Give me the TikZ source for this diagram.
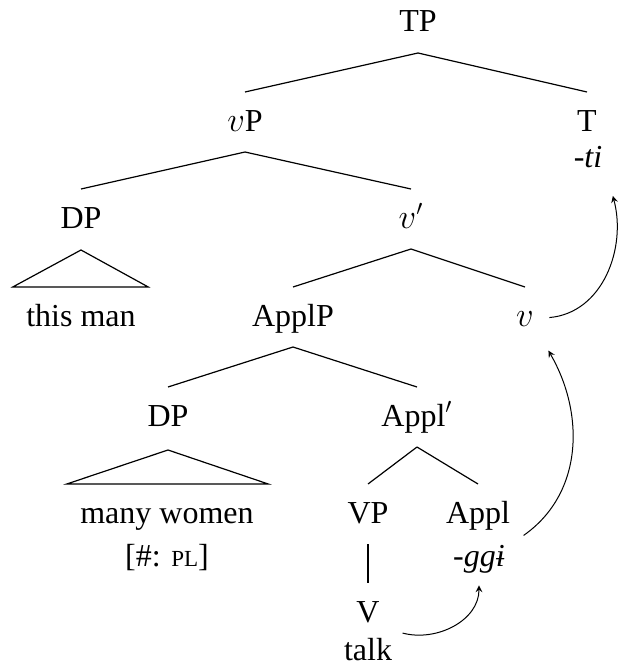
\documentclass[tikz,border=0pt]{standalone}
\usepackage{fontspec}
\setmainfont{Liberation Serif}
\usetikzlibrary{calc,arrows}
\tikzset{
    catnode/.style={anchor=base, inner sep=0pt},
    lexnode/.style={anchor=base, inner sep=0pt},
    movearrow/.style={-stealth, line width=0.5pt}
}

\begin{document}
\begin{tikzpicture}[x=0.5pt, y=0.5pt, font=\fontsize{16}{19}\selectfont, line width=0.6pt]
    \useasboundingbox (0,0) rectangle (620,-664);
    % categories and words
    \node [catnode] (TP) at (418,-32) {TP};
    \node [catnode] (vP) at (245,-131) {$v$P};
    \node [catnode] (T) at (587,-131) {T};
    \node [lexnode] (ti) at (588,-167) {\textit{-ti}};
    \node [catnode] (DPa) at (81,-228) {DP};
    \node [catnode] (vbar) at (411,-228) {$v'$};
    \node [lexnode] (thisman) at (81,-326) {this man};
    \node [catnode] (ApplP) at (293,-326) {ApplP};
    \node [catnode] (v) at (525,-326) {$v$};
    \node [catnode] (DPb) at (168,-426) {DP};
    \node [catnode] (Applbar) at (417,-426) {Appl$'$};
    \node [lexnode] (women) at (167,-523) {many women};
    \node [lexnode] (phi) at (167,-566) {[\#: {\fontsize{11.5}{12}\selectfont PL}]};
    \node [catnode] (VP) at (368,-523) {VP};
    \node [catnode] (Appl) at (478,-523) {Appl};
    \node [lexnode] (ggi) at (479,-566) {\textit{-ggɨ}};
    \node [catnode] (V) at (368,-622) {V};
    \node [lexnode] (talk) at (368,-660) {talk};

    % branches
    \foreach \mother/\daughter in {TP/vP,TP/T,vP/DPa,vP/vbar,vbar/ApplP,vbar/v,ApplP/DPb,ApplP/Applbar,Applbar/VP,Applbar/Appl,VP/V}
        \draw ($(\mother.base)+(0,-21)$) -- ($(\daughter.base)+(0,39)$);

    % triangles
    \draw ($(DPa.base)+(0,-22)$) -- ($(thisman.base west)+(-13,39)$) -- ($(thisman.base east)+(12,39)$) -- cycle;
    \draw ($(DPb.base)+(0,-24)$) -- ($(women.base west)+(-13,39)$) -- ($(women.base east)+(14,39)$) -- cycle;

    % head movement
    \draw [movearrow] ($(talk.east)+(10,16)$) to[out=-15, in=-90] ($(ggi.south)+(0,-12)$);
    \draw [movearrow] ($(Appl.south east)+(13,-5)$) to[out=35, in=-60] ($(v.south east)+(14,-24)$);
    \draw [movearrow] ($(v.east)+(15,1)$) to[out=5, in=-75] ($(ti.south east)+(10,-28)$);
\end{tikzpicture}
\end{document}
